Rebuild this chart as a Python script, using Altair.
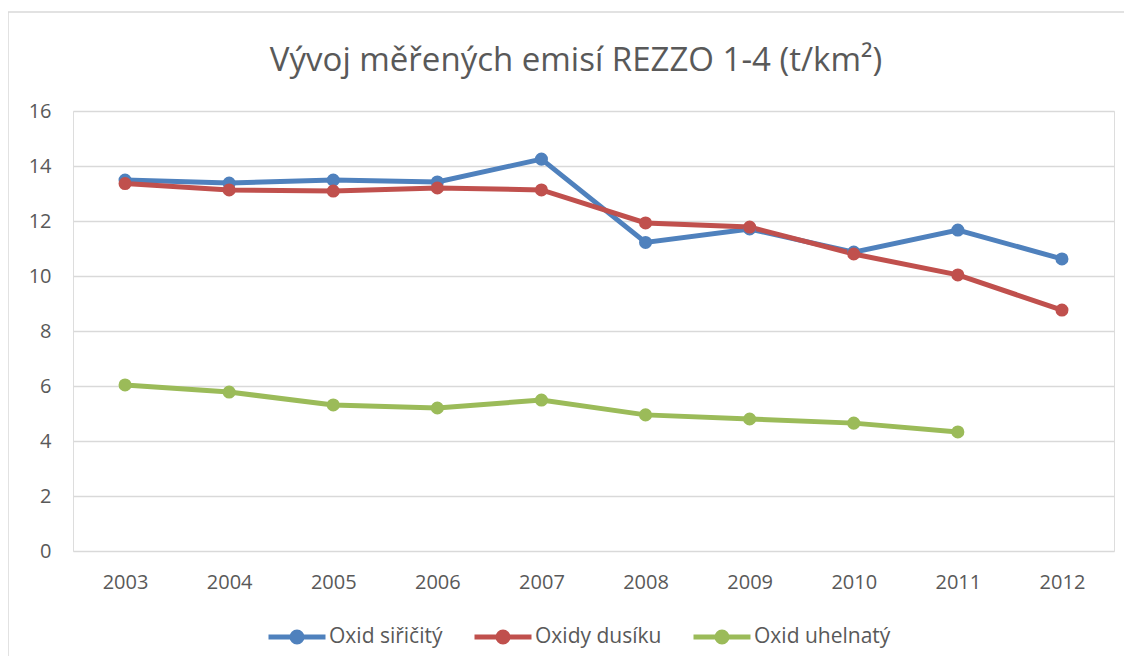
import altair as alt
import pandas as pd

years = ["2003", "2004", "2005", "2006", "2007", "2008", "2009", "2010", "2011", "2012"]
so2 = [13.49, 13.38, 13.49, 13.42, 14.25, 11.22, 11.71, 10.87, 11.67, 10.62]
nox = [13.36, 13.13, 13.09, 13.20, 13.13, 11.93, 11.78, 10.80, 10.04, 8.76]
co = [6.04, 5.78, 5.31, 5.20, 5.49, 4.95, 4.80, 4.65, 4.33, None]

series_names = ["Oxid siřičitý", "Oxidy dusíku", "Oxid uhelnatý"]
series_colors = ["#4F81BD", "#C0504D", "#9BBB59"]
title_text = "Vývoj měřených emisí REZZO 1-4 (t/km²)"

rows = []
for name, vals in zip(series_names, [so2, nox, co]):
    for y, v in zip(years, vals):
        if v is not None:
            rows.append({"rok": y, "hodnota": v, "serie": name})
df = pd.DataFrame(rows)

FONT = "Open Sans"
GRAY = "#595959"

# legend symbol: horizontal line with filled dot
sym = ("M-1,0L1,0 M-0.175,0A0.175,0.175 0 1,1 0.175,0A0.175,0.175 0 1,1 -0.175,0 "
       "M-0.09,0A0.09,0.09 0 1,1 0.09,0A0.09,0.09 0 1,1 -0.09,0 "
       "M-0.02,0A0.02,0.02 0 1,1 0.02,0A0.02,0.02 0 1,1 -0.02,0")

color = alt.Color(
    "serie:N",
    scale=alt.Scale(domain=series_names, range=series_colors),
    sort=series_names,
    legend=alt.Legend(
        title=None, orient="none", direction="horizontal",
        legendX=193, legendY=495,
        symbolType=sym, symbolSize=3249, symbolStrokeWidth=5,
        symbolFillColor="transparent",
        labelFont=FONT, labelFontSize=21, labelColor=GRAY,
        columnPadding=21, labelOffset=1,
    ),
)

x = alt.X("rok:N", sort=years, title=None,
          scale=alt.Scale(paddingInner=0, paddingOuter=0.5),
          axis=alt.Axis(labelAngle=0, ticks=False, domain=False, grid=False,
                        labelFont=FONT, labelFontSize=20, labelColor=GRAY,
                        labelPadding=21))
y = alt.Y("hodnota:Q", title=None,
          scale=alt.Scale(domain=[0, 16], nice=False),
          axis=alt.Axis(values=[0, 2, 4, 6, 8, 10, 12, 14, 16], ticks=False,
                        domain=False, gridColor="#D9D9D9", gridWidth=1.5,
                        labelFont=FONT, labelFontSize=20, labelColor=GRAY,
                        labelPadding=22))

base = alt.Chart(df)
lines = base.mark_line(strokeWidth=5).encode(x=x, y=y, color=color, detail="serie:N")
points = base.mark_circle(size=170, opacity=1).encode(x=x, y=y, color=alt.Color("serie:N", scale=alt.Scale(domain=series_names, range=series_colors), legend=None))

one = pd.DataFrame({"a": [0]})
border = alt.Chart(one).mark_rect(
    fill="transparent", stroke="#D9D9D9", strokeWidth=1.5
).encode(x=alt.value(-65), x2=alt.value(1200), y=alt.value(-99), y2=alt.value(700))

title = alt.Chart(one).mark_text(
    font=FONT, fontSize=33, color=GRAY, align="center", baseline="middle"
).encode(text=alt.value(title_text), x=alt.value(503), y=alt.value(-50))

chart = alt.layer(border, lines, points, title).properties(
    width=1041, height=440,
    padding={"left": 65, "top": 103, "right": 10, "bottom": 105},
    autosize=alt.AutoSizeParams(type="none"),
).configure_view(stroke=None).configure(background="white")

chart.save("out.html", embed_options={"renderer": "svg", "actions": False})
